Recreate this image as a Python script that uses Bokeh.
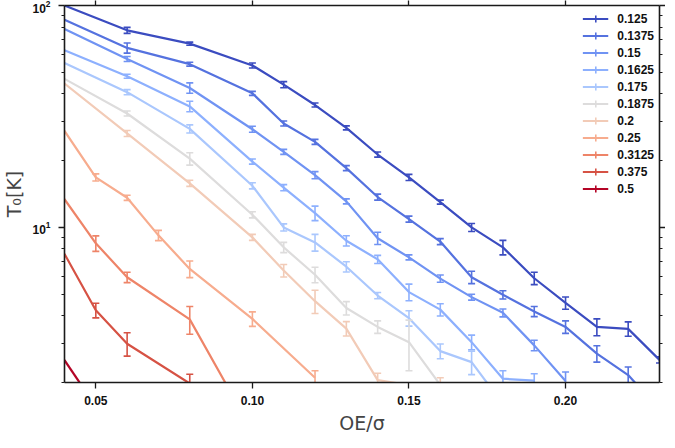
import math
from bokeh.plotting import figure
from bokeh.models import (LinearAxis, LogAxis, FixedTicker, NumeralTickFormatter,
                          CustomJSTickFormatter, Legend, LegendItem, ColumnDataSource, Range1d)
from bokeh.embed import file_html
from bokeh.resources import INLINE

# ---------------- data ----------------
series_labels = ["0.125", "0.1375", "0.15", "0.1625", "0.175", "0.1875",
                 "0.2", "0.25", "0.3125", "0.375", "0.5"]
colors = ["#3b4cc0", "#5572df", "#7093f3", "#8db0fe", "#aac7fd", "#dddcdc",
          "#f2cbb7", "#f7ac8e", "#ee8468", "#d65244", "#b40426"]

x_0125 = [0.04, 0.06, 0.08, 0.10, 0.11, 0.12, 0.13, 0.14, 0.15, 0.16, 0.17, 0.18, 0.19, 0.20, 0.21, 0.22, 0.23]
t_0125 = [100, 77.3, 67.3, 53.7, 44.0, 35.6, 28.1, 21.3, 16.8, 13.0, 10.0, 8.13, 5.90, 4.57, 3.56, 3.49, 2.53]
e_0125 = [0, 2.4, 1.1, 1.4, 1.4, 0.74, 0.59, 0.56, 0.53, 0.27, 0.42, 0.61, 0.38, 0.29, 0.31, 0.26, 0.08]

x_01375 = [0.04, 0.06, 0.08, 0.10, 0.11, 0.12, 0.13, 0.14, 0.15, 0.16, 0.17, 0.18, 0.19, 0.20, 0.21, 0.22, 0.23]
t_01375 = [86.3, 64.4, 54.4, 40.2, 29.4, 24.3, 18.5, 13.7, 10.9, 8.63, 5.96, 4.97, 4.18, 3.56, 2.70, 2.16, 1.51]
e_01375 = [0, 3.4, 1.1, 0.84, 0.77, 0.64, 0.48, 0.43, 0.34, 0.27, 0.38, 0.21, 0.22, 0.23, 0.23, 0.19, 0.05]

x_015 = [0.04, 0.06, 0.08, 0.10, 0.11, 0.12, 0.13, 0.14, 0.15, 0.16, 0.17, 0.18, 0.19, 0.20]
t_015 = [78.3, 57.4, 42.5, 27.7, 21.9, 17.2, 13.1, 8.94, 7.33, 5.88, 4.85, 4.12, 2.94, 2.03]
e_015 = [0, 1.5, 2.3, 0.87, 0.57, 0.63, 0.34, 0.57, 0.19, 0.22, 0.15, 0.17, 0.16, 0.2]

x_01625 = [0.04, 0.06, 0.08, 0.10, 0.11, 0.12, 0.13, 0.14, 0.15, 0.16, 0.17, 0.18, 0.19]
t_01625 = [62.9, 48.0, 35.1, 19.8, 15.1, 11.6, 8.71, 7.18, 5.11, 4.26, 3.04, 2.08, 2.04]
e_01625 = [0, 1.0, 1.9, 0.52, 0.48, 0.87, 0.46, 0.30, 0.44, 0.27, 0.23, 0.18, 0.15]

x_0175 = [0.04, 0.06, 0.08, 0.10, 0.11, 0.12, 0.13, 0.14, 0.15, 0.16, 0.17, 0.18]
t_0175 = [55.1, 40.7, 27.8, 15.4, 10.0, 8.56, 6.65, 4.93, 3.90, 2.77, 2.47, 1.60]
e_0175 = [0, 1.07, 1.17, 0.49, 0.37, 0.74, 0.35, 0.16, 0.31, 0.21, 0.30, 0]

x_01875 = [0.04, 0.06, 0.08, 0.10, 0.11, 0.12, 0.13, 0.14, 0.15, 0.16]
t_01875 = [46.7, 32.6, 20.4, 11.4, 8.13, 6.12, 4.33, 3.56, 3.04, 1.95]
e_01875 = [0, 0.85, 1.31, 0.36, 0.43, 0.49, 0.30, 0.23, 0.78, 0]

x_02 = [0.04, 0.06, 0.08, 0.10, 0.11, 0.12, 0.13, 0.14, 0.16]
t_02 = [44.5, 26.5, 15.8, 9.02, 6.39, 4.65, 3.50, 2.05, 1.85]
e_02 = [0, 0.83, 0.5, 0.28, 0.41, 0.56, 0.26, 0.15, 0.25]

x_025 = [0.04, 0.05, 0.06, 0.07, 0.08, 0.10, 0.12]
t_025 = [27.2, 16.8, 13.6, 9.21, 6.50, 3.87, 2.10]
e_025 = [0, 0.62, 0.36, 0.49, 0.56, 0.29, 0.16]

x_03125 = [0.04, 0.05, 0.06, 0.08, 0.10]
t_03125 = [13.4, 8.48, 5.96, 3.85, 1.21]
e_03125 = [0, 0.68, 0.32, 0.55, 0]

x_0375 = [0.04, 0.05, 0.06, 0.08]
t_0375 = [7.59, 4.23, 2.99, 1.98]
e_0375 = [0, 0.32, 0.36, 0.2]

x_05 = [0.04, 0.05]
t_05 = [2.52, 1.56]
e_05 = [0, 0]

xs = [x_0125, x_01375, x_015, x_01625, x_0175, x_01875, x_02, x_025, x_03125, x_0375, x_05]
ts = [t_0125, t_01375, t_015, t_01625, t_0175, t_01875, t_02, t_025, t_03125, t_0375, t_05]
es = [e_0125, e_01375, e_015, e_01625, e_0175, e_01875, e_02, e_025, e_03125, e_0375, e_05]

x_ticks = [0.05, 0.10, 0.15, 0.20]
y_major = [10, 100]
y_minor = [2, 3, 4, 5, 6, 7, 8, 9, 20, 30, 40, 50, 60, 70, 80, 90]

# ---------------- figure ----------------
FONT = "Liberation Sans"
p = figure(frame_width=595, frame_height=377,
           x_range=Range1d(0.04, 0.23), y_range=Range1d(2, 100),
           y_axis_type="log", output_backend="svg", toolbar_location=None,
           min_border_left=0, min_border_right=0, min_border_top=0, min_border_bottom=0)
p.xgrid.visible = False
p.ygrid.visible = False
p.outline_line_color = None
p.background_fill_color = "white"

def style_axis(ax, minor=True):
    ax.axis_line_color = "#1a1a1a"
    ax.axis_line_width = 1.6
    ax.major_tick_line_color = "#1a1a1a"
    ax.major_tick_line_width = 1.3
    ax.major_tick_in = 0
    ax.major_tick_out = 6
    ax.minor_tick_in = 0
    ax.minor_tick_out = 3
    ax.minor_tick_line_width = 1.1
    ax.minor_tick_line_color = "#1a1a1a" if minor else None
    ax.major_label_text_font = FONT
    ax.major_label_text_font_style = "bold"
    ax.major_label_text_font_size = "12px"
    ax.major_label_text_color = "#111111"
    ax.major_label_text_line_height = 1.0
    ax.axis_label_text_line_height = 1.0

def hide_labels(ax):
    ax.formatter = CustomJSTickFormatter(code="return ''")
    ax.major_label_text_color = None
    ax.major_label_text_font_size = "1px"
    ax.major_label_standoff = 0

xax = p.xaxis[0]
xax.ticker = FixedTicker(ticks=x_ticks)
xax.formatter = NumeralTickFormatter(format="0.00")
style_axis(xax, False)
xax.major_label_standoff = 7
xax.axis_label = "OE/σ"
xax.axis_label_text_font = "DejaVu Sans"
xax.axis_label_text_font_style = "normal"
xax.axis_label_text_font_size = "19px"
xax.axis_label_standoff = 4

yax = p.yaxis[0]
yax.ticker = FixedTicker(ticks=y_major, minor_ticks=y_minor)
style_axis(yax, True)
yax.major_label_standoff = 8
yax.axis_label = "T₀[K]"
yax.axis_label_text_font = "DejaVu Sans"
yax.axis_label_text_font_style = "normal"
yax.axis_label_text_font_size = "19px"
yax.axis_label_standoff = 4

top_ax = LinearAxis(ticker=FixedTicker(ticks=x_ticks))
style_axis(top_ax, False)
hide_labels(top_ax)
top_ax.major_tick_out = 5
p.add_layout(top_ax, "above")

right_ax = LogAxis(ticker=FixedTicker(ticks=y_major, minor_ticks=y_minor))
style_axis(right_ax, True)
hide_labels(right_ax)
p.add_layout(right_ax, "right")

# ---------------- series ----------------
legend_items = []
for lab, col, x, t, e in zip(series_labels, colors, xs, ts, es):
    src = ColumnDataSource(dict(x=x, t=t))
    line_r = p.line("x", "t", source=src, line_color=col, line_width=2.2)
    ex = [xi for xi, ei in zip(x, e) if ei > 0]
    lo = [ti - ei for ti, ei in zip(t, e) if ei > 0]
    hi = [ti + ei for ti, ei in zip(t, e) if ei > 0]
    esrc = ColumnDataSource(dict(x=ex, lo=lo, hi=hi))
    p.segment(x0="x", y0="lo", x1="x", y1="hi", source=esrc, line_color=col, line_width=1.6)
    p.scatter("x", "lo", source=esrc, marker="dash", size=7, line_color=col, line_width=1.6)
    p.scatter("x", "hi", source=esrc, marker="dash", size=7, line_color=col, line_width=1.6)
    # legend marker: a tiny cross sitting on the first data point (invisible in the plot)
    lsrc = ColumnDataSource(dict(x=x[:1], t=t[:1]))
    leg_r = p.scatter("x", "t", source=lsrc, marker="cross", size=1, line_color=col,
                      line_width=1.6)
    legend_items.append(LegendItem(label=lab, renderers=[line_r, leg_r]))

legend = Legend(items=legend_items, location="top_right",
                glyph_width=26, glyph_height=17, label_height=17, spacing=0,
                label_standoff=9, padding=2, margin=3,
                label_text_font=FONT, label_text_font_style="bold",
                label_text_font_size="12px", label_text_color="#111111",
                border_line_alpha=0, background_fill_alpha=0)
p.add_layout(legend)

open("out.html", "w").write(file_html(p, INLINE))
